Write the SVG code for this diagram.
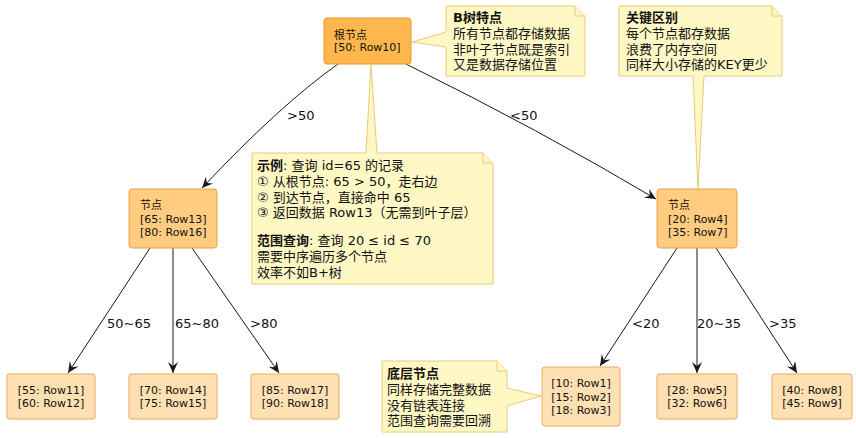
<svg xmlns="http://www.w3.org/2000/svg" width="856" height="438" viewBox="0 0 856 438">
<defs>
<marker id="arr" markerWidth="12" markerHeight="12" refX="11" refY="5" orient="auto" markerUnits="userSpaceOnUse">
<path d="M0,0 L11,5 L0,10 L4,5 Z" fill="#181818"/>
</marker>
<style>
text{font-family:"DejaVu Sans","Noto Sans CJK SC",sans-serif;fill:#111}
.n{font-size:11px}
.t{font-size:13px}
.b{font-weight:bold}
.root{fill:#FFB74D;stroke:#E39A2E;stroke-width:1}
.mid{fill:#FFCC80;stroke:#E8A04A;stroke-width:1}
.leaf{fill:#FFE0B2;stroke:#EBA867;stroke-width:1}
.note{fill:#FFF8C4;stroke:#E8CB7A;stroke-width:1}
.e{fill:none;stroke:#181818;stroke-width:1;marker-end:url(#arr)}
</style>
</defs>
<rect width="856" height="438" fill="#fff"/>

<g id="connectors">
<path class="e" d="M338,64 Q280,105 202,188"/>
<path class="e" d="M406,64 Q540,130 656,199"/>
<path class="e" d="M150,248 L68,373"/>
<path class="e" d="M173,248 L173,373"/>
<path class="e" d="M192,248 L279,373"/>
<path class="e" d="M677,248 L600,366"/>
<path class="e" d="M697,248 L697,373"/>
<path class="e" d="M716,248 L797,373"/>
<text class="t" x="287" y="120">&gt;50</text>
<text class="t" x="510" y="120">&lt;50</text>
<text class="t" x="107" y="328">50~65</text>
<text class="t" x="175" y="328">65~80</text>
<text class="t" x="250" y="328">&gt;80</text>
<text class="t" x="632" y="328">&lt;20</text>
<text class="t" x="697" y="328">20~35</text>
<text class="t" x="769" y="328">&gt;35</text>
</g>

<g id="root">
<rect class="root" x="324" y="18" width="87" height="46" rx="3"/>
<text class="n" x="334" y="39">根节点</text>
<text class="n" x="334" y="51">[50: Row10]</text>
</g>

<g id="nodeL">
<rect class="mid" x="129" y="189" width="88" height="59" rx="3"/>
<text class="n" x="140" y="209">节点</text>
<text class="n" x="140" y="222.5">[65: Row13]</text>
<text class="n" x="140" y="236">[80: Row16]</text>
</g>

<g id="nodeR">
<rect class="mid" x="657" y="189" width="80" height="59" rx="3"/>
<text class="n" x="668" y="209">节点</text>
<text class="n" x="668" y="222.5">[20: Row4]</text>
<text class="n" x="668" y="236">[35: Row7]</text>
</g>

<g id="leaf1">
<rect class="leaf" x="7" y="374" width="88" height="45" rx="2"/>
<text class="n" x="51" y="394" text-anchor="middle">[55: Row11]</text>
<text class="n" x="51" y="407" text-anchor="middle">[60: Row12]</text>
</g>
<g id="leaf2">
<rect class="leaf" x="129" y="374" width="88" height="45" rx="2"/>
<text class="n" x="173" y="394" text-anchor="middle">[70: Row14]</text>
<text class="n" x="173" y="407" text-anchor="middle">[75: Row15]</text>
</g>
<g id="leaf3">
<rect class="leaf" x="251" y="374" width="88" height="45" rx="2"/>
<text class="n" x="295" y="394" text-anchor="middle">[85: Row17]</text>
<text class="n" x="295" y="407" text-anchor="middle">[90: Row18]</text>
</g>
<g id="leaf4">
<rect class="leaf" x="542" y="367" width="78" height="59" rx="3"/>
<text class="n" x="581" y="387" text-anchor="middle">[10: Row1]</text>
<text class="n" x="581" y="400.5" text-anchor="middle">[15: Row2]</text>
<text class="n" x="581" y="414" text-anchor="middle">[18: Row3]</text>
</g>
<g id="leaf5">
<rect class="leaf" x="657" y="374" width="80" height="45" rx="2"/>
<text class="n" x="697" y="394" text-anchor="middle">[28: Row5]</text>
<text class="n" x="697" y="407" text-anchor="middle">[32: Row6]</text>
</g>
<g id="leaf6">
<rect class="leaf" x="772" y="374" width="80" height="45" rx="2"/>
<text class="n" x="812" y="394" text-anchor="middle">[40: Row8]</text>
<text class="n" x="812" y="407" text-anchor="middle">[45: Row9]</text>
</g>

<g id="noteB">
<path class="note" d="M446,6 L575,6 L585,16 L585,76 L446,76 L446,47 L412,42 L446,32 Z"/>
<path class="note" d="M575,6 L575,16 L585,16"/>
<text class="t b" x="453" y="22">B树特点</text>
<text class="t" x="453" y="38">所有节点都存储数据</text>
<text class="t" x="453" y="53.5">非叶子节点既是索引</text>
<text class="t" x="453" y="69">又是数据存储位置</text>
</g>

<g id="noteKey">
<path class="note" d="M619,6 L772,6 L782,16 L782,76 L704,76 L698,189 L693,76 L619,76 Z"/>
<path class="note" d="M772,6 L772,16 L782,16"/>
<text class="t b" x="626" y="22">关键区别</text>
<text class="t" x="626" y="38">每个节点都存数据</text>
<text class="t" x="626" y="53.5">浪费了内存空间</text>
<text class="t" x="626" y="69">同样大小存储的KEY更少</text>
</g>

<g id="noteEx">
<path class="note" d="M252,153 L366,153 L371,64 L377,153 L483,153 L493,163 L493,284 L252,284 Z"/>
<path class="note" d="M483,153 L483,163 L493,163"/>
<text class="t" x="257" y="170"><tspan class="b">示例</tspan>: 查询 id=65 的记录</text>
<text class="t" x="257" y="186">① 从根节点: 65 &gt; 50，走右边</text>
<text class="t" x="257" y="201.5">② 到达节点，直接命中 65</text>
<text class="t" x="257" y="217">③ 返回数据 Row13（无需到叶子层）</text>
<text class="t" x="257" y="245"><tspan class="b">范围查询</tspan>: 查询 20 ≤ id ≤ 70</text>
<text class="t" x="257" y="261">需要中序遍历多个节点</text>
<text class="t" x="257" y="276.5">效率不如B+树</text>
</g>

<g id="noteLeaf">
<path class="note" d="M382,361 L497,361 L507,371 L507,388 L541,396 L507,406 L507,432 L382,432 Z"/>
<path class="note" d="M497,361 L497,371 L507,371"/>
<text class="t b" x="387" y="378">底层节点</text>
<text class="t" x="387" y="394">同样存储完整数据</text>
<text class="t" x="387" y="409.5">没有链表连接</text>
<text class="t" x="387" y="425">范围查询需要回溯</text>
</g>
</svg>
